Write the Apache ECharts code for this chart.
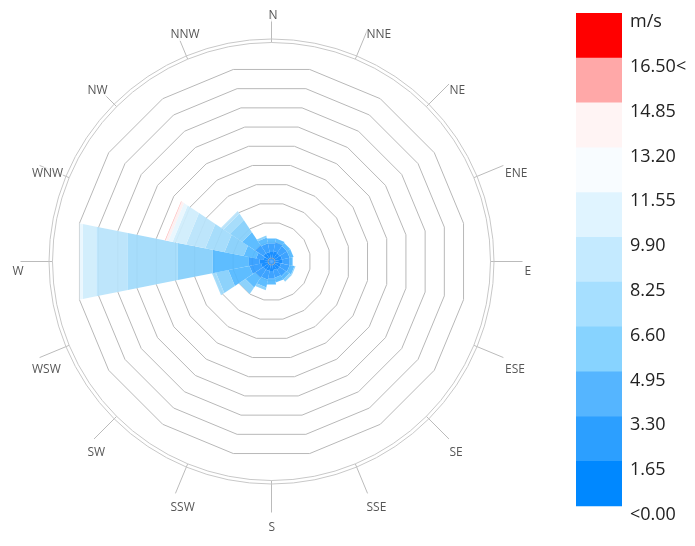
<!DOCTYPE html>
<html>
<head>
<meta charset="utf-8">
<script src="https://cdn.jsdelivr.net/npm/echarts@6/dist/echarts.min.js"></script>
<style>
  html, body { margin: 0; padding: 0; background: #fff; }
  #chart { width: 695px; height: 546px; }
</style>
</head>
<body>
<div id="chart"></div>
<script>
// 16方位
const directions = ['N', 'NNE', 'NE', 'ENE', 'E', 'ESE', 'SE', 'SSE', 'S', 'SSW', 'SW', 'WSW', 'W', 'WNW', 'NW', 'NNW']
// 風速階級ごとの頻度 (方位順)
const bin0 = [1.0, 1.1, 1.0, 1.1, 1.1, 1.0, 1.0, 0.9, 1.0, 1.0, 1.0, 1.1, 1.25, 0.85, 1.0, 1.0]
const bin1 = [0.9, 0.9, 0.9, 0.8, 0.8, 0.9, 0.8, 0.8, 0.8, 0.9, 1.0, 1.2, 1.1, 0.75, 1.0, 0.9]
const bin2 = [0.5, 0.4, 0.4, 0.4, 0.3, 0.5, 0.4, 0.5, 0.6, 0.8, 1.2, 2.2, 3.8, 1.3, 1.6, 0.6]
const bin3 = [0, 0, 0, 0, 0, 0.1, 0.3, 0, 0, 0.3, 0.8, 1.3, 3.6, 2.0, 1.5, 0.2]
const bin4 = [0, 0, 0, 0, 0, 0, 0, 0, 0, 0, 0, 0.4, 5.2, 2.0, 0.8, 0]
const bin5 = [0, 0, 0, 0, 0, 0, 0, 0, 0, 0, 0, 0, 3.3, 2.0, 0.3, 0]
const bin6 = [0, 0, 0, 0, 0, 0, 0, 0, 0, 0, 0, 0, 1.4, 1.4, 0, 0]
const bin7 = [0, 0, 0, 0, 0, 0, 0, 0, 0, 0, 0, 0, 0.35, 0.45, 0, 0]
const bin8 = [0, 0, 0, 0, 0, 0, 0, 0, 0, 0, 0, 0, 0, 0.3, 0, 0]
const bin9 = [0, 0, 0, 0, 0, 0, 0, 0, 0, 0, 0, 0, 0, 0.05, 0, 0]
const bin10 = [0, 0, 0, 0, 0, 0, 0, 0, 0, 0, 0, 0, 0, 0, 0, 0]
const bins = [bin0, bin1, bin2, bin3, bin4, bin5, bin6, bin7, bin8, bin9, bin10]
// 凡例の色
const binColors = ['#0088ff', '#2c9fff', '#55b5ff', '#87d3ff', '#a6dfff', '#c4eaff', '#e0f4ff', '#f8fcff', '#fff4f4', '#ffa8a8', '#ff0000']
// バーの色 (画像上の見え方)
const barColors = ['#0a86ff', '#2f9cff', '#52b8ff', '#84cffb', '#a0dafb', '#b8e3fb', '#cfedfc', '#e8f6fe', '#fdf0f1', '#ffa8a8', '#ff0000']
const legendLabels = ['m/s', '16.50<', '14.85', '13.20', '11.55', '9.90', '8.25', '6.60', '4.95', '3.30', '1.65', '<0.00']
const rMax = 20
const ringCount = 10

const cx = 271.5
const cy = 261.5
const roseR = 195.8
const labelR = 256

// 積み上げ区間を作る
let segs = []
directions.forEach((d, i) => {
  let acc = 0
  bins.forEach((b, k) => {
    if (b[i] > 0) {
      segs.push([acc + b[i], i * 22.5, acc, k])
      acc += b[i]
    }
  })
})

const renderSeg = (params, api) => {
  const r1 = api.value(0)
  const a = api.value(1)
  const r0 = api.value(2)
  const k = api.value(3)
  const pts = [
    api.coord([r0, a - 11.25]),
    api.coord([r1, a - 11.25]),
    api.coord([r1, a + 11.25]),
    api.coord([r0, a + 11.25])
  ]
  return {
    type: 'polygon',
    shape: { points: pts },
    style: { fill: barColors[k], opacity: 0.93 }
  }
}

// 凡例
let legendGraphics = []
const lgX = 576
const lgTop = 13
const lgH = 44.8
for (let k = 0; k < binColors.length; k++) {
  legendGraphics.push({
    type: 'rect',
    shape: { x: lgX, y: lgTop + lgH * k, width: 46, height: lgH + 0.5 },
    style: { fill: binColors[binColors.length - 1 - k] }
  })
}
legendLabels.forEach((t, k) => {
  legendGraphics.push({
    type: 'text',
    x: 630,
    y: lgTop + lgH * k + 9,
    style: {
      text: t,
      fill: '#222',
      font: '18px "Open Sans"',
      verticalAlign: 'middle'
    }
  })
})

const myChart = echarts.init(document.getElementById('chart'))
let option = {
  animation: false,
  textStyle: { fontFamily: 'Open Sans' },
  polar: [
    { center: [cx, cy], radius: roseR },
    { center: [cx, cy], radius: 219 },
    { center: [cx, cy], radius: 222.5 }
  ],
  angleAxis: [
    {
      polarIndex: 0, type: 'value', min: 0, max: 360, startAngle: 90, clockwise: true,
      axisLine: { show: false }, axisTick: { show: false }, axisLabel: { show: false }, splitLine: { show: false }
    },
    {
      polarIndex: 1, type: 'category', data: directions, startAngle: 101.25, clockwise: true,
      axisLine: { show: true, lineStyle: { color: '#c8c8c8', width: 1 } },
      axisTick: { show: true, alignWithLabel: true, length: 32, lineStyle: { color: '#bbb' } },
      axisLabel: { show: false },
      splitLine: { show: false }
    },
    {
      polarIndex: 2, type: 'value', min: 0, max: 360,
      axisLine: { show: true, lineStyle: { color: '#c8c8c8', width: 1 } },
      axisTick: { show: false }, axisLabel: { show: false }, splitLine: { show: false }
    }
  ],
  radiusAxis: [
    { polarIndex: 0, type: 'value', min: 0, max: rMax, axisLine: { show: false }, axisTick: { show: false }, axisLabel: { show: false }, splitLine: { show: false } },
    { polarIndex: 1, type: 'value', min: 0, max: 219, show: false },
    { polarIndex: 2, type: 'value', show: false }
  ],
  radar: {
    center: [cx, cy],
    radius: roseR,
    startAngle: 101.25,
    shape: 'polygon',
    splitNumber: ringCount,
    indicator: directions.map(d => ({ name: d, max: rMax })),
    axisName: { show: false },
    axisLine: { show: false },
    axisTick: { show: false },
    axisLabel: { show: false },
    splitArea: { show: false },
    splitLine: { lineStyle: { color: '#b8b8b8', width: 1 } }
  },
  graphic: legendGraphics,
  series: [
    {
      type: 'custom',
      coordinateSystem: 'polar',
      polarIndex: 0,
      renderItem: renderSeg,
      encode: { radius: 0, angle: 1 },
      data: segs,
      z: 3
    },
    {
      type: 'scatter',
      coordinateSystem: 'polar',
      polarIndex: 0,
      data: [[0, 0]],
      symbolSize: 7,
      itemStyle: { color: 'rgba(0,0,0,0)', borderColor: '#aaa', borderWidth: 1 },
      silent: true,
      z: 4
    },
    {
      // 方位名 (左上基準で配置)
      type: 'scatter',
      coordinateSystem: 'polar',
      polarIndex: 1,
      clip: false,
      data: directions.map(d => [labelR, d]),
      symbolSize: 1,
      itemStyle: { color: 'rgba(0,0,0,0)' },
      label: {
        show: true,
        position: 'inside',
        align: 'left',
        verticalAlign: 'top',
        offset: [-3, 4],
        formatter: p => p.value[1],
        color: '#2a2a2a',
        fontSize: 12,
        fontFamily: 'Open Sans',
        backgroundColor: '#fff',
        padding: 0
      },
      silent: true,
      z: 5
    }
  ]
}
myChart.setOption(option)
</script>
</body>
</html>
